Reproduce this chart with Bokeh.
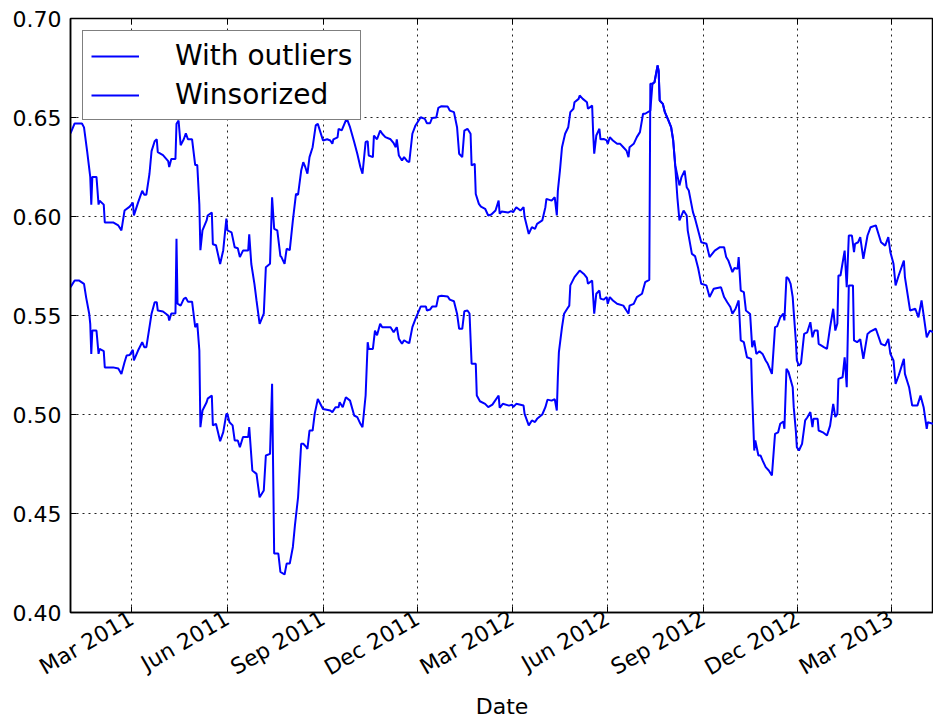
import math
import pandas as pd
from bokeh.plotting import figure
from bokeh.models import (Range1d, FixedTicker, DatetimeTickFormatter, PrintfTickFormatter,
                          DatetimeAxis, CustomJSTickFormatter)
from bokeh.embed import file_html
from bokeh.resources import INLINE

# ---- data (x = days since 2011-01-01) ----
start_date = "2011-01-01"

upper_days = [0, 4, 11, 13, 16, 19, 20, 21, 25, 27, 28, 32, 33, 41, 46, 49, 52, 57, 60, 61, 65, 69, 71, 73,
              76, 78, 81, 83, 84, 89, 94, 95, 97, 101, 102, 104, 106, 109, 111, 113, 117, 120, 122, 124,
              125, 127, 131, 132, 136, 137, 140, 144, 147, 150, 151, 155, 158, 161, 163, 166, 171, 172,
              174, 177, 179, 182, 186, 188, 192, 194, 196, 199, 202, 203, 206, 208, 211, 214, 217, 219,
              222, 224, 226, 228, 230, 233, 236, 238, 243, 247, 250, 252, 253, 257, 258, 261, 265, 266,
              269, 273, 276, 279, 281, 284, 286, 287, 291, 292, 295, 298, 300, 303, 308, 311, 313, 314,
              316, 319, 321, 324, 326, 329, 332, 337, 341, 343, 346, 348, 352, 354, 357, 363, 365, 369,
              372, 374, 377, 379, 382, 385, 386, 389, 390, 393, 395, 399, 402, 405, 409, 412, 413, 415,
              421, 424, 426, 429, 433, 436, 437, 441, 444, 447, 449, 454, 457, 458, 463, 466, 468, 469,
              471, 473, 476, 479, 481, 484, 485, 489, 490, 493, 497, 498, 502, 503, 504, 506, 509, 510,
              513, 516, 517, 519, 522, 526, 529, 532, 535, 537, 538, 542, 545, 548, 551, 553, 558, 560,
              562, 565, 566, 567, 570, 572, 575, 578, 580, 582, 586, 588, 591, 593, 595, 599, 601, 607,
              612, 615, 620, 625, 629, 631, 633, 637, 639, 642, 643, 645, 648, 650, 654, 656, 658, 660,
              663, 666, 669, 671, 675, 678, 680, 683, 686, 687, 689, 691, 693, 695, 696, 698, 699, 701,
              703, 706, 709, 712, 714, 716, 719, 720, 725, 728, 731, 734, 736, 738, 739, 741, 745, 747,
              749, 752, 754, 755, 758, 760, 763, 767, 770, 775, 780, 784, 787, 789, 792, 794, 797, 802,
              803, 808, 813, 816, 819, 824, 827, 830]
upper_vals = [0.642, 0.647, 0.647, 0.645, 0.633, 0.620, 0.606, 0.620, 0.620, 0.606, 0.608, 0.606, 0.597,
              0.597, 0.5955, 0.593, 0.603, 0.605, 0.607, 0.6005, 0.607, 0.613, 0.611, 0.611, 0.6216,
              0.633, 0.638, 0.639, 0.6325, 0.631, 0.628, 0.625, 0.629, 0.629, 0.6468, 0.6485, 0.636,
              0.639, 0.642, 0.639, 0.639, 0.626, 0.626, 0.606, 0.583, 0.593, 0.598, 0.6005, 0.602,
              0.586, 0.5855, 0.576, 0.583, 0.599, 0.593, 0.592, 0.5845, 0.584, 0.5795, 0.5828, 0.5828,
              0.591, 0.576, 0.566, 0.5576, 0.5458, 0.551, 0.5744, 0.5761, 0.6097, 0.5938, 0.593, 0.580,
              0.5795, 0.5761, 0.5837, 0.583, 0.598, 0.6114, 0.611, 0.6232, 0.6274, 0.6249, 0.6216,
              0.630, 0.635, 0.646, 0.6468, 0.6384, 0.639, 0.6384, 0.6367, 0.639, 0.640, 0.6443,
              0.6435, 0.6485, 0.6493, 0.6451, 0.6376, 0.6317, 0.6249, 0.6216, 0.6376, 0.638, 0.6308,
              0.630, 0.6409, 0.639, 0.6434, 0.6418, 0.6401, 0.639, 0.637, 0.635, 0.639, 0.6308,
              0.6283, 0.630, 0.628, 0.6274, 0.6418, 0.646, 0.6501, 0.6493, 0.6471, 0.6471, 0.6498,
              0.650, 0.6549, 0.6557, 0.6555, 0.6535, 0.6527, 0.6451, 0.6317, 0.630, 0.6434, 0.6443,
              0.6418, 0.6258, 0.6266, 0.6114, 0.6064, 0.605, 0.6039, 0.6005, 0.601, 0.603, 0.608,
              0.6014, 0.6025, 0.602, 0.6027, 0.6022, 0.6047, 0.603, 0.6047, 0.5997, 0.5912, 0.5946,
              0.5938, 0.5963, 0.598, 0.6047, 0.6089, 0.608, 0.6097, 0.6005, 0.6131, 0.6232, 0.635,
              0.6418, 0.6451, 0.6527, 0.6544, 0.6577, 0.6594, 0.6611, 0.6594, 0.6577, 0.6544, 0.656,
              0.6418, 0.6317, 0.6409, 0.6443, 0.639, 0.6392, 0.6384, 0.6367, 0.640, 0.6384, 0.6367,
              0.6367, 0.635, 0.6333, 0.630, 0.635, 0.6367, 0.6401, 0.6426, 0.6519, 0.6519, 0.6535,
              0.667, 0.6678, 0.6763, 0.6735, 0.6586, 0.6569, 0.6527, 0.649, 0.6451, 0.6384, 0.6258,
              0.6157, 0.6199, 0.6232, 0.6148, 0.6131, 0.6022, 0.599, 0.587, 0.5862, 0.5795, 0.5828,
              0.5845, 0.5845, 0.5795, 0.5778, 0.5719, 0.574, 0.5736, 0.5795, 0.5626, 0.5618, 0.5525,
              0.5508, 0.534, 0.5374, 0.5306, 0.532, 0.5306, 0.5273, 0.5256, 0.5205, 0.5441, 0.5445,
              0.5491, 0.551, 0.5475, 0.5694, 0.5685, 0.566, 0.5593, 0.5517, 0.5374, 0.5273, 0.5247,
              0.5258, 0.5407, 0.5415, 0.5466, 0.539, 0.5424, 0.5424, 0.5357, 0.534, 0.5331, 0.5441,
              0.5534, 0.5424, 0.546, 0.5702, 0.5702, 0.5828, 0.5643, 0.5904, 0.5904, 0.582, 0.5862,
              0.587, 0.5896, 0.5786, 0.5904, 0.5946, 0.5955, 0.587, 0.5853, 0.5896, 0.582, 0.5761,
              0.5652, 0.5702, 0.5778, 0.5694, 0.5525, 0.5534, 0.5491, 0.5576, 0.539, 0.5424, 0.5416]

lower_days = [0, 4, 8, 13, 15, 18, 19, 20, 21, 25, 27, 28, 32, 33, 41, 46, 49, 52, 54, 57, 60, 61, 65, 69,
              71, 73, 76, 78, 81, 83, 84, 89, 94, 95, 97, 101, 102, 103, 106, 109, 111, 113, 117, 120,
              122, 124, 125, 127, 131, 132, 136, 137, 140, 144, 147, 150, 151, 153, 156, 158, 161, 163,
              166, 171, 172, 175, 179, 182, 186, 188, 192, 194, 196, 200, 202, 206, 208, 211, 214, 216,
              219, 222, 224, 227, 228, 230, 233, 235, 238, 243, 250, 252, 255, 258, 259, 262, 265, 269,
              273, 276, 279, 281, 284, 286, 287, 291, 293, 295, 298, 300, 303, 308, 311, 314, 316, 319,
              321, 324, 326, 329, 332, 337, 342, 343, 346, 348, 352, 354, 357, 363, 365, 369, 372, 374,
              377, 379, 382, 384, 386, 390, 391, 394, 399, 402, 406, 412, 413, 416, 422, 425, 426, 429,
              436, 437, 441, 444, 447, 449, 454, 457, 459, 463, 466, 468, 469, 470, 473, 475, 478, 480,
              481, 485, 490, 494, 497, 498, 502, 504, 506, 509, 510, 513, 516, 517, 519, 522, 526, 532,
              535, 537, 538, 542, 545, 550, 553, 557, 558, 560, 562, 565, 566, 567, 570, 572, 575, 578,
              580, 582, 584, 586, 590, 593, 594, 598, 601, 604, 607, 612, 615, 619, 626, 629, 632, 635,
              637, 640, 643, 645, 648, 651, 655, 656, 658, 659, 662, 664, 666, 669, 672, 675, 678, 681,
              683, 686, 687, 689, 691, 695, 696, 698, 699, 701, 704, 707, 709, 712, 714, 715, 719, 720,
              724, 728, 731, 734, 736, 738, 739, 743, 745, 747, 749, 753, 754, 757, 760, 763, 767, 770,
              775, 780, 784, 787, 789, 792, 794, 797, 802, 803, 807, 810, 815, 818, 821, 824, 825, 830]
lower_vals = [0.5643, 0.5677, 0.5677, 0.566, 0.5593, 0.5509, 0.5458, 0.5306, 0.5424, 0.5424, 0.5306,
              0.5331, 0.532, 0.5238, 0.5238, 0.5232, 0.5205, 0.5264, 0.5298, 0.530, 0.5327, 0.5273,
              0.5323, 0.5365, 0.534, 0.534, 0.5441, 0.5509, 0.5567, 0.5567, 0.5525, 0.552, 0.550,
              0.5475, 0.551, 0.551, 0.5887, 0.556, 0.555, 0.5584, 0.559, 0.557, 0.557, 0.5441, 0.546,
              0.5323, 0.4936, 0.502, 0.5062, 0.508, 0.5096, 0.4945, 0.4953, 0.4865, 0.4911, 0.5003,
              0.5003, 0.4961, 0.4945, 0.4869, 0.4869, 0.4835, 0.4886, 0.4886, 0.4936, 0.4717, 0.470,
              0.4582, 0.4616, 0.4793, 0.4801, 0.5155, 0.4298, 0.4298, 0.4205, 0.4192, 0.4247, 0.4247,
              0.4331, 0.4441, 0.4582, 0.4852, 0.4852, 0.4835, 0.4826, 0.4919, 0.4919, 0.5003, 0.5078,
              0.5028, 0.502, 0.5012, 0.5037, 0.5037, 0.5062, 0.5037, 0.5087, 0.507, 0.4995, 0.4987,
              0.4953, 0.4936, 0.5096, 0.5365, 0.5331, 0.5331, 0.5424, 0.540, 0.5458, 0.5441, 0.5441,
              0.5441, 0.5415, 0.5441, 0.5382, 0.5357, 0.5375, 0.5365, 0.536, 0.5441, 0.5483, 0.5545,
              0.5545, 0.5525, 0.553, 0.5545, 0.5545, 0.5596, 0.560, 0.5596, 0.558, 0.5572, 0.5509,
              0.5433, 0.5433, 0.5521, 0.5525, 0.551, 0.5256, 0.5256, 0.5096, 0.5067, 0.5054, 0.5037,
              0.505, 0.5096, 0.5034, 0.5054, 0.5045, 0.505, 0.5037, 0.5054, 0.5045, 0.5003, 0.4945,
              0.497, 0.4962, 0.4978, 0.500, 0.5037, 0.5075, 0.507, 0.5078, 0.502, 0.5188, 0.5315,
              0.5441, 0.5509, 0.5534, 0.555, 0.5652, 0.5694, 0.5727, 0.571, 0.569, 0.566, 0.5677,
              0.5509, 0.561, 0.5626, 0.5585, 0.558, 0.5593, 0.5559, 0.5593, 0.5576, 0.5559, 0.555,
              0.5525, 0.5509, 0.555, 0.5559, 0.5593, 0.561, 0.5668, 0.568, 0.667, 0.667, 0.6678,
              0.6763, 0.6735, 0.6586, 0.6569, 0.6527, 0.649, 0.6451, 0.6384, 0.625, 0.6097, 0.598,
              0.603, 0.6005, 0.5929, 0.5811, 0.580, 0.574, 0.566, 0.5652, 0.5593, 0.5635, 0.5643,
              0.5593, 0.5567, 0.5543, 0.5509, 0.5534, 0.5576, 0.5374, 0.5365, 0.5289, 0.5281, 0.510,
              0.4818, 0.4869, 0.4793, 0.4793, 0.4768, 0.4734, 0.4717, 0.4692, 0.4902, 0.491, 0.4953,
              0.4965, 0.4928, 0.5231, 0.5214, 0.5138, 0.5037, 0.4919, 0.4835, 0.4818, 0.4852, 0.497,
              0.4985, 0.5012, 0.4936, 0.4978, 0.4978, 0.4919, 0.491, 0.4894, 0.4944, 0.5054, 0.4987,
              0.5003, 0.518, 0.5188, 0.5289, 0.5138, 0.5652, 0.5652, 0.5374, 0.5365, 0.538, 0.5281,
              0.5407, 0.542, 0.5433, 0.5357, 0.5348, 0.5382, 0.5306, 0.5273, 0.5155, 0.5197, 0.5281,
              0.5205, 0.5138, 0.5045, 0.5045, 0.5096, 0.5037, 0.4927, 0.4961, 0.4953]

series_labels = ["With outliers", "Winsorized"]
x_tick_dates = ["2011-03-01", "2011-06-01", "2011-09-01", "2011-12-01", "2012-03-01",
                "2012-06-01", "2012-09-01", "2012-12-01", "2013-03-01"]
y_ticks = [0.40, 0.45, 0.50, 0.55, 0.60, 0.65, 0.70]
x_end_day = 830.5

# ---- build ----
t0 = pd.Timestamp(start_date)
upper_x = t0 + pd.to_timedelta(upper_days, unit="D")
lower_x = t0 + pd.to_timedelta(lower_days, unit="D")
x_tick_ms = [pd.Timestamp(s).value / 1e6 for s in x_tick_dates]

FONT = "DejaVu Sans"

p = figure(width=933, height=723, x_axis_type="datetime",
           x_range=Range1d(t0, t0 + pd.Timedelta(days=x_end_day)),
           y_range=Range1d(0.40, 0.70),
           output_backend="svg", toolbar_location=None,
           min_border_left=70, min_border_right=0, min_border_top=18, min_border_bottom=111)

p.line(lower_x, lower_vals, line_color="#0000ff", line_width=2, legend_label=series_labels[0])
p.line(upper_x, upper_vals, line_color="#0000ff", line_width=2, legend_label=series_labels[1])

fmt = DatetimeTickFormatter(months="%b %Y", days="%b %Y", years="%b %Y", hours="%b %Y")
xt = FixedTicker(ticks=x_tick_ms)
yt = FixedTicker(ticks=y_ticks)

xa = p.xaxis[0]
xa.ticker = xt
xa.formatter = fmt
xa.major_label_orientation = math.pi / 6
xa.axis_label = "Date"
xa.axis_label_text_font = FONT
xa.axis_label_text_font_size = "22px"
xa.axis_label_text_font_style = "normal"
xa.axis_label_text_color = "black"
xa.axis_label_standoff = 0

ya = p.yaxis[0]
ya.ticker = yt
ya.formatter = PrintfTickFormatter(format="%.2f")

for ax in (xa, ya):
    ax.major_label_text_font = FONT
    ax.major_label_text_font_size = "22px"
    ax.major_label_text_color = "black"
    ax.major_tick_in = 6
    ax.major_tick_out = 0
    ax.minor_tick_line_color = None
    ax.major_tick_line_color = "black"
    ax.axis_line_color = "black"
    ax.axis_line_width = 1.5
xa.major_label_standoff = 4
ya.major_label_standoff = 9

top = DatetimeAxis(ticker=xt, formatter=CustomJSTickFormatter(code="return ''"),
                   major_tick_in=6, major_tick_out=0, minor_tick_line_color=None,
                   axis_line_color="black", major_label_standoff=0)
p.add_layout(top, "above")

p.xgrid.ticker = xt
p.ygrid.ticker = yt
for g in (p.xgrid, p.ygrid):
    g.grid_line_color = "#222222"
    g.grid_line_dash = "2 4"
    g.grid_line_width = 1

p.outline_line_color = "black"
p.outline_line_width = 1.5
p.background_fill_color = "white"

lg = p.legend[0]
lg.location = "top_left"
lg.margin = 12
lg.padding = 8
lg.spacing = 6
lg.label_height = 30
lg.glyph_height = 30
lg.glyph_width = 48
lg.label_standoff = 36
lg.label_text_font = FONT
lg.label_text_font_size = "28px"
lg.label_text_color = "black"
lg.border_line_color = "black"
lg.border_line_width = 1.5
lg.background_fill_alpha = 1.0

open("out.html", "w").write(file_html(p, INLINE))
